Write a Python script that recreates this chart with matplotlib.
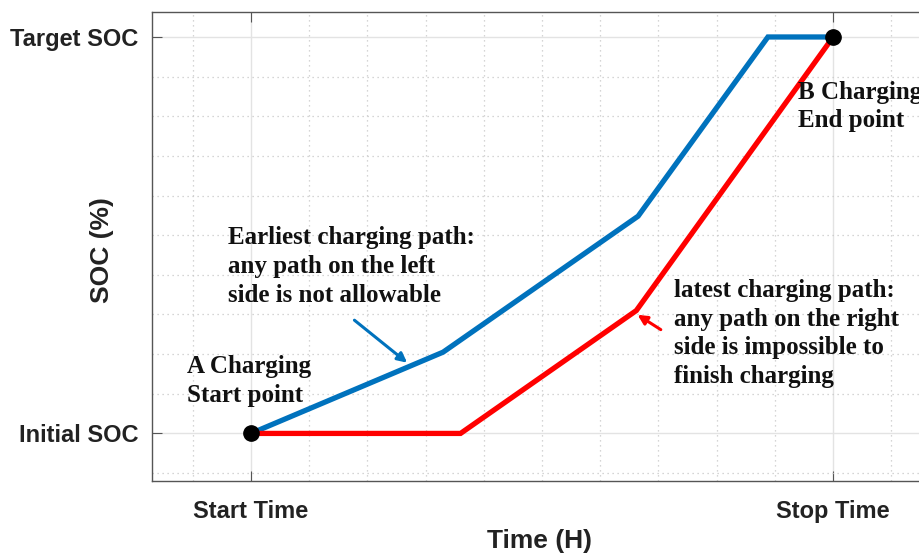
import matplotlib
matplotlib.use("Agg")
import matplotlib.pyplot as plt
from matplotlib.ticker import MultipleLocator

# Data (time units: Start=0, Stop=10; SOC units: Initial=0, Target=10)
x_ticks = [0, 10]
x_tick_labels = ["Start Time", "Stop Time"]
y_ticks = [0, 10]
y_tick_labels = ["Initial SOC", "Target SOC"]

earliest_t = [0, 3.3, 6.65, 8.88, 10]
earliest_soc = [0, 2.05, 5.48, 10, 10]
latest_t = [0, 3.6, 6.62, 10]
latest_soc = [0, 0, 3.1, 10]
points_t = [0, 10]
points_soc = [0, 10]

fig = plt.figure(figsize=(9.2, 5.55), dpi=100)
ax = fig.add_axes([152/920, 74/555, 783/920, 469/555])
ax.set_xlim(-1.7, 11.75)
ax.set_ylim(-1.2, 10.63)

ax.set_xticks(x_ticks)
ax.set_xticklabels(x_tick_labels)
ax.set_yticks(y_ticks)
ax.set_yticklabels(y_tick_labels)
ax.xaxis.set_minor_locator(MultipleLocator(1))
ax.yaxis.set_minor_locator(MultipleLocator(1))
ax.tick_params(which='major', direction='in', length=7, color='#555555', width=0.8,
               top=True, right=False, labelsize=17)
ax.tick_params(which='minor', length=0)
ax.tick_params(axis='x', pad=14)
ax.tick_params(axis='y', pad=10)
for lab in ax.get_xticklabels() + ax.get_yticklabels():
    lab.set_fontfamily('Liberation Sans')
    lab.set_fontweight('bold')
    lab.set_color('#222222')

ax.grid(which='major', color='#e3e3e3', linestyle='-', linewidth=1)
ax.grid(which='minor', color='#c8c8c8', linestyle=(0, (1, 3)), linewidth=0.9)
ax.set_axisbelow(True)
for s in ['top', 'left', 'bottom']:
    ax.spines[s].set_color('#555555')
    ax.spines[s].set_linewidth(1)
ax.spines['right'].set_visible(False)

ax.plot(earliest_t, earliest_soc, color='#0072BD', linewidth=3.8, solid_joinstyle='miter', zorder=3)
ax.plot(latest_t, latest_soc, color='#FF0000', linewidth=3.8, solid_joinstyle='miter', zorder=3)
ax.plot(points_t, points_soc, 'o', color='black', markersize=11, zorder=4)

ax.set_xlabel("Time (H)", fontfamily='Liberation Sans', fontweight='bold', fontsize=19,
              color='#222222', va='center')
ax.set_ylabel("SOC (%)", fontfamily='Liberation Sans', fontweight='bold', fontsize=19,
              color='#222222', va='center')
ax.xaxis.set_label_coords((540 - 152) / 783, (481 - 541) / 469)
ax.yaxis.set_label_coords((102 - 152) / 783, (481 - 250) / 469)

tfont = dict(fontfamily='Liberation Serif', fontweight='bold', fontsize=18,
             color='#111111', ha='left', va='top', linespacing=1.32, zorder=5)
ax.text(-0.4, 5.23, "Earliest charging path:\nany path on the left\nside is not allowable", **tfont)
ax.text(-1.1, 1.97, "A Charging\nStart point", **tfont)
ax.text(9.4, 8.9, "B Charging\nEnd point", **tfont)
ax.text(7.27, 3.9, "latest charging path:\nany path on the right\nside is impossible to\nfinish charging", **tfont)

ax.annotate("", xy=(2.72, 1.74), xytext=(1.74, 2.9),
            arrowprops=dict(arrowstyle='-|>', color='#0072BD', lw=2.2, mutation_scale=14))
ax.annotate("", xy=(6.6, 3.03), xytext=(7.08, 2.58),
            arrowprops=dict(arrowstyle='-|>', color='#FF0000', lw=2.2, mutation_scale=14))

fig.savefig("out.png", dpi=100)
